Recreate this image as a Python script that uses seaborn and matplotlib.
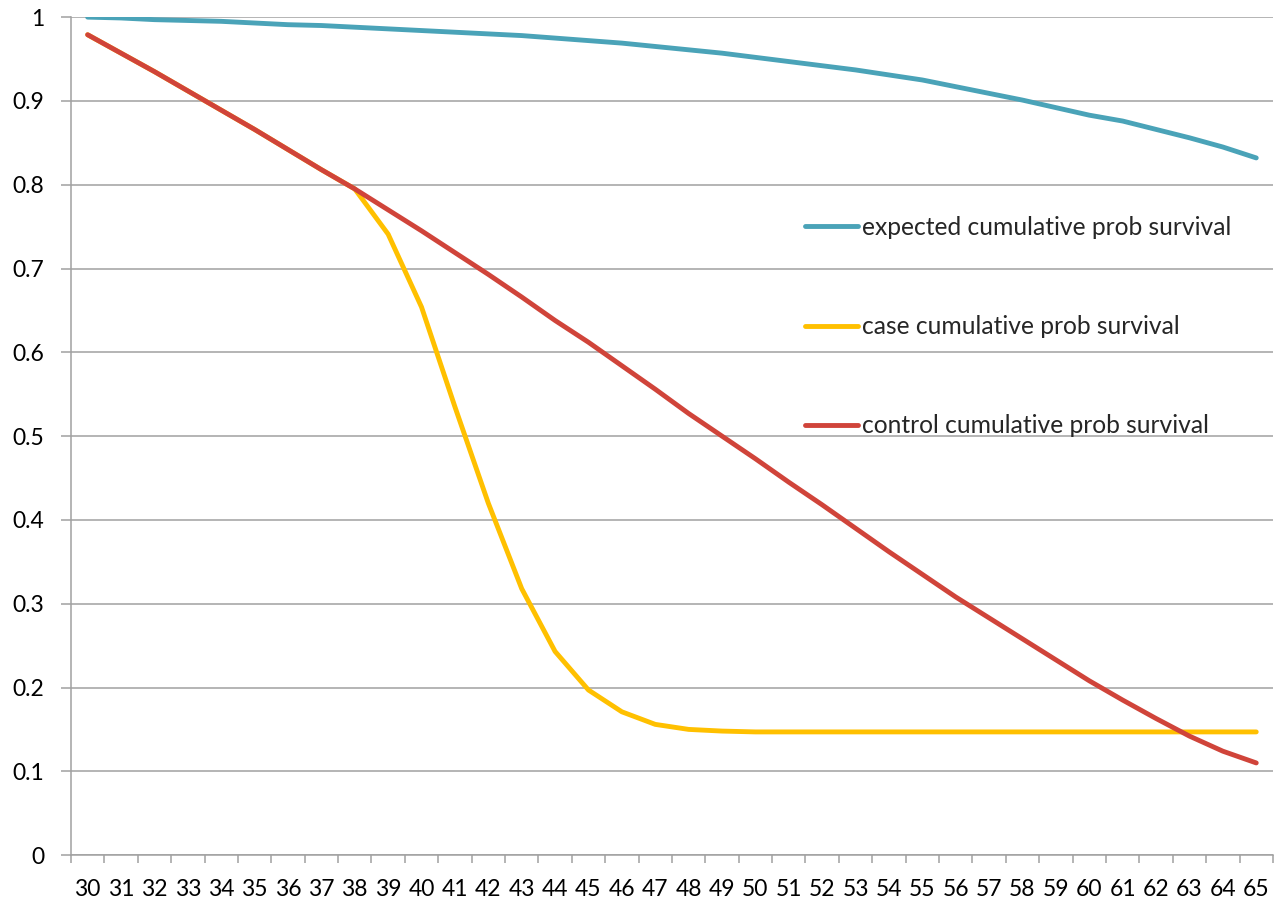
import numpy as np
import pandas as pd
import seaborn as sns
import matplotlib
matplotlib.use("Agg")
import matplotlib.pyplot as plt
from matplotlib.ticker import FixedLocator

# Ages on the category axis
ages = list(range(30, 66))

# Cumulative survival probabilities by age
expected = [1.000, 0.999, 0.997, 0.996, 0.995, 0.993, 0.991, 0.990, 0.988, 0.986,
            0.984, 0.982, 0.980, 0.978, 0.975, 0.972, 0.969, 0.965, 0.961, 0.957,
            0.952, 0.947, 0.942, 0.937, 0.931, 0.925, 0.917, 0.909, 0.901, 0.892,
            0.883, 0.876, 0.866, 0.856, 0.845, 0.832]
case = [0.979, 0.957, 0.935, 0.912, 0.889, 0.866, 0.842, 0.818, 0.795, 0.741,
        0.654, 0.535, 0.420, 0.318, 0.243, 0.197, 0.171, 0.156, 0.150, 0.148,
        0.147, 0.147, 0.147, 0.147, 0.147, 0.147, 0.147, 0.147, 0.147, 0.147,
        0.147, 0.147, 0.147, 0.147, 0.147, 0.147]
control = [0.979, 0.957, 0.935, 0.912, 0.889, 0.866, 0.842, 0.818, 0.795, 0.770,
           0.745, 0.719, 0.693, 0.666, 0.638, 0.612, 0.584, 0.556, 0.527, 0.500,
           0.473, 0.445, 0.418, 0.390, 0.362, 0.335, 0.308, 0.283, 0.258, 0.233,
           0.208, 0.185, 0.163, 0.142, 0.124, 0.110]

series_names = ["expected cumulative prob survival",
                "case cumulative prob survival",
                "control cumulative prob survival"]
series_colors = ["#4AA3B8", "#FFC000", "#D0443A"]

df = pd.concat([
    pd.DataFrame({"age": ages, "prob": vals, "series": name})
    for name, vals in zip(series_names, [expected, case, control])
])

sns.set_theme(style="white")
plt.rcParams["font.family"] = ["Lato", "DejaVu Sans"]

fig = plt.figure(figsize=(12.76, 9.02), dpi=100)
ax = fig.add_axes([0.0556, 0.052, 0.942, 0.929])

lw = 3.5
sns.lineplot(data=df, x="age", y="prob", hue="series", hue_order=series_names,
             palette=series_colors, linewidth=lw, ax=ax, legend=False,
             solid_capstyle="round", solid_joinstyle="round", sort=False)

grid_c = "#A0A0A0"
ax.set_xlim(ages[0] - 0.5, ages[-1] + 0.5)
ax.set_ylim(0, 1)
ax.set_xlabel("")
ax.set_ylabel("")

# y axis: gridlines every 0.1
yt = np.round(np.arange(0, 1.01, 0.1), 1)
ax.yaxis.set_major_locator(FixedLocator(yt))
ax.set_yticklabels([f"{v:g}" for v in yt])
ax.grid(axis="y", color=grid_c, linewidth=1.1)
ax.set_axisbelow(True)

# x axis: labels at categories, tick marks between them
ax.xaxis.set_major_locator(FixedLocator(ages))
ax.set_xticklabels([str(a) for a in ages])
ax.xaxis.set_minor_locator(FixedLocator(np.arange(ages[0] - 0.5, ages[-1] + 1, 1.0)))
ax.tick_params(axis="x", which="major", length=0, pad=17, labelsize=16.5, colors="black")
ax.tick_params(axis="x", which="minor", length=6, width=1.1, color=grid_c, bottom=True)
ax.tick_params(axis="y", which="major", length=7, width=1.1, color=grid_c, left=True,
               pad=12, labelsize=16.5, labelcolor="black")

for side in ["top", "right"]:
    ax.spines[side].set_visible(False)
for side in ["left", "bottom"]:
    ax.spines[side].set_color(grid_c)
    ax.spines[side].set_linewidth(1.1)

handles = [plt.Line2D([], [], color=c, linewidth=lw, solid_capstyle="round")
           for c in series_colors]
ax.legend(handles, series_names, loc="upper left",
          bbox_to_anchor=(805 / 1276, 1 - 216 / 902), bbox_transform=fig.transFigure,
          frameon=False, fontsize=17.7, handlelength=2.15, handletextpad=0.16,
          labelspacing=3.1, borderpad=0, borderaxespad=0)

fig.savefig("out.png", dpi=100)
